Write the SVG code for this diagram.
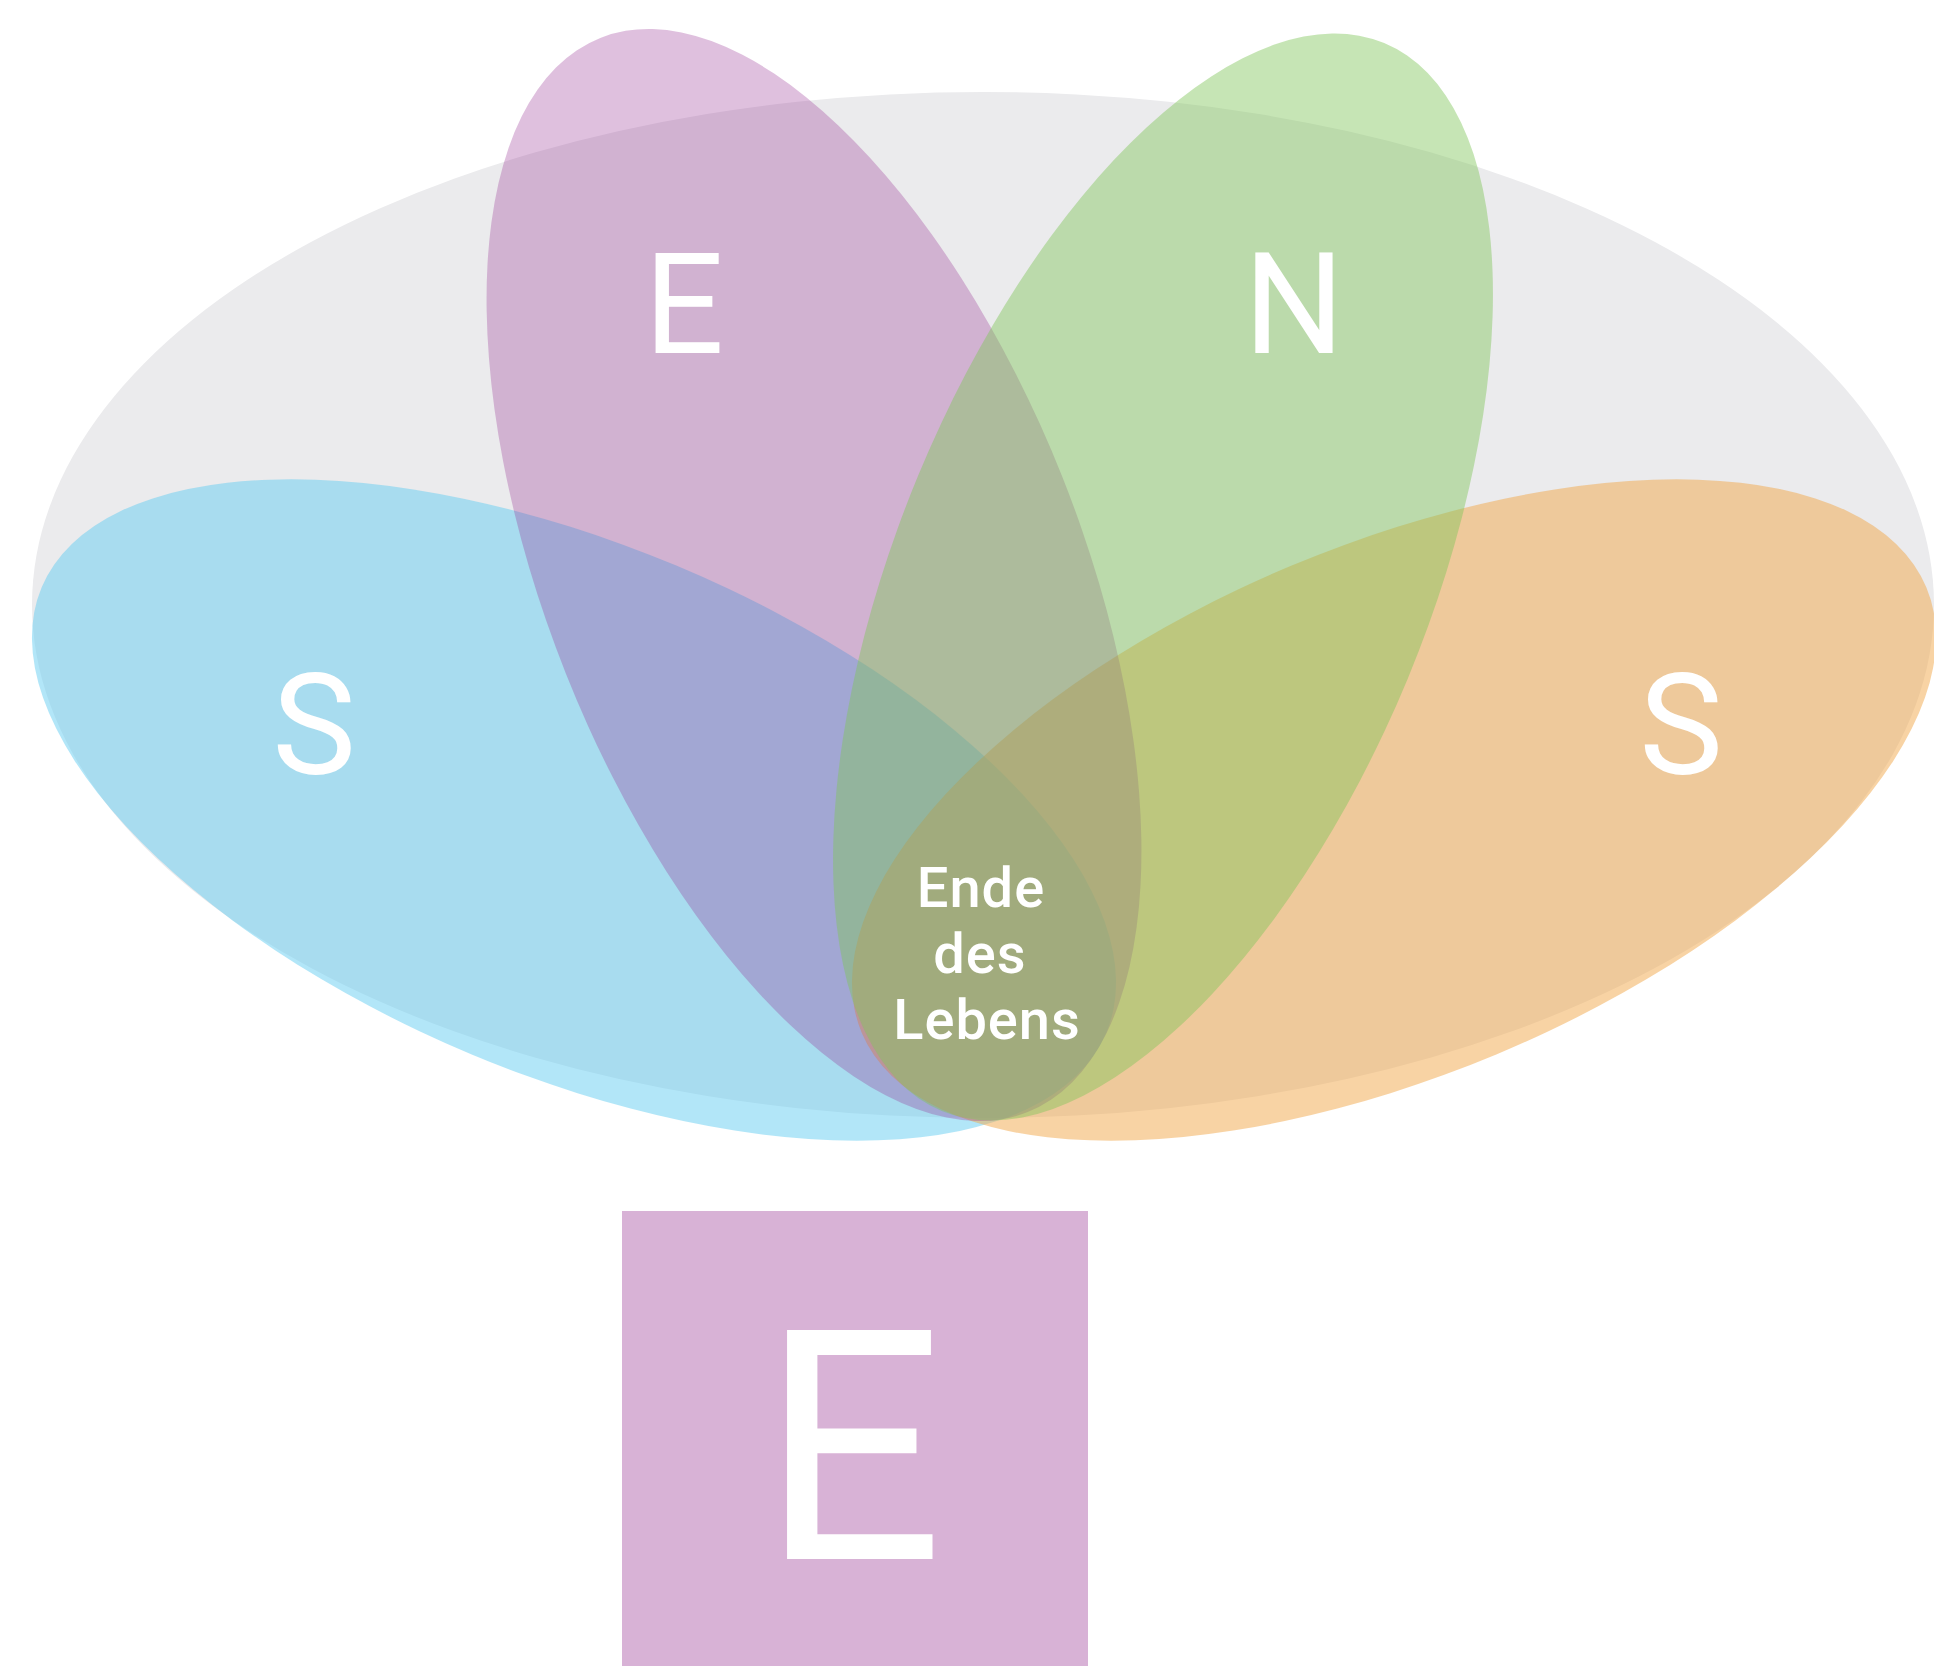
<svg xmlns="http://www.w3.org/2000/svg" width="1934" height="1666" viewBox="0 0 1934 1666">
  <style>
    .big { font-family: Roboto, "Liberation Sans", sans-serif; font-weight: 400; font-size: 141px; fill: #ffffff; text-anchor: middle; }
    .small { font-family: Roboto, "Liberation Sans", sans-serif; font-weight: 500; font-size: 56px; fill: #ffffff; text-anchor: middle; letter-spacing: 1px; }
  </style>
  <rect x="0" y="0" width="1934" height="1666" fill="#ffffff"/>
  <g id="background-ellipse">
    <ellipse cx="983" cy="605" rx="951" ry="513" fill="#EBEBED"/>
  </g>
  <g id="petal-s-left">
    <ellipse cx="574" cy="810" rx="577" ry="265" fill="rgb(101,205,241)" fill-opacity="0.5" transform="rotate(22.7 574 810)"/>
  </g>
  <g id="petal-s-right">
    <ellipse cx="1394" cy="810" rx="577" ry="265" fill="rgb(241,167,73)" fill-opacity="0.5" transform="rotate(-22.7 1394 810)"/>
  </g>
  <g id="petal-e">
    <ellipse cx="814" cy="575" rx="578" ry="267" fill="rgb(148,45,145)" fill-opacity="0.3" transform="rotate(68.3 814 575)"/>
  </g>
  <g id="petal-n">
    <ellipse cx="1163" cy="577" rx="578" ry="265" fill="rgb(129,198,91)" fill-opacity="0.45" transform="rotate(-67.5 1163 577)"/>
  </g>
  <g id="labels">
    <text class="big" x="684" y="353">E</text>
    <text class="big" x="1294" y="353">N</text>
    <text class="big" x="314" y="774">S</text>
    <text class="big" x="1681" y="774">S</text>
  </g>
  <g id="center">
    <text class="small" x="981" y="907">Ende</text>
    <text class="small" x="980" y="973">des</text>
    <text class="small" x="987" y="1039">Lebens</text>
  </g>
  <g id="box-e">
    <rect x="622" y="1211" width="466" height="455" fill="#D8B2D6"/>
    <text x="852" y="1559" font-family="Roboto, 'Liberation Sans', sans-serif" font-size="322" fill="#ffffff" text-anchor="middle">E</text>
  </g>
</svg>
